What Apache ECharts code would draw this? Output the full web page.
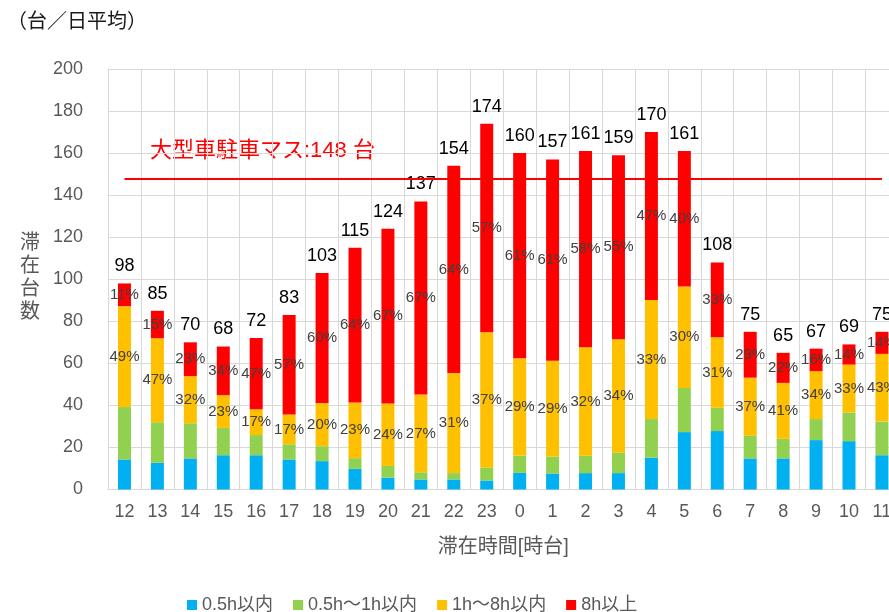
<!DOCTYPE html>
<html>
<head>
<meta charset="utf-8">
<script src="https://cdn.jsdelivr.net/npm/echarts@6/dist/echarts.min.js"></script>
<style>html,body{margin:0;padding:0;background:#fff}#c{width:889px;height:612px}</style>
</head>
<body>
<div id="c"></div>
<script>
var categories = ['12','13','14','15','16','17','18','19','20','21','22','23','0','1','2','3','4','5','6','7','8','9','10','11'];
var seriesNames = ['0.5h以内','0.5h～1h以内','1h～8h以内','8h以上'];
var blue   = [14.3,12.7,14.8,16.3,16.3,14.3,13.5,9.8,5.6,4.8,4.8,4.3,7.9,7.6,7.8,7.8,15.1,27.3,27.8,14.8,14.8,23.5,23,16.3];
var green  = [24.9,19.3,16.7,13,9.6,7.2,7.1,5.1,5.6,3.4,3,6.1,8.1,8.1,8.3,9.7,18.4,21,11.1,10.7,9.3,10,13.6,16];
var orange = [48,40,22.4,15.6,12.3,14.2,20.6,26.5,29.7,37,47.6,64.4,46.4,45.5,51.5,54,56.6,48.3,33.5,27.7,26.6,22.8,22.8,32.2];
var red    = [10.8,13,16.1,23.1,33.8,47.3,61.8,73.6,83.1,91.8,98.6,99.2,97.6,95.8,93.4,87.5,79.9,64.4,35.6,21.8,14.3,10.7,9.6,10.5];
var totalLabels  = [98,85,70,68,72,83,103,115,124,137,154,174,160,157,161,159,170,161,108,75,65,67,69,75];
var orangePct = [49,47,32,23,17,17,20,23,24,27,31,37,29,29,32,34,33,30,31,37,41,34,33,43];
var redPct    = [11,15,23,34,47,57,60,64,67,67,64,57,61,61,58,55,47,40,33,29,22,16,14,14];
var parkingCapacity = 148;
var yTicks = {min:0, max:200, interval:20};

var FF = "'Liberation Sans','Noto Sans CJK JP',sans-serif";
var colors = ['#00B0F0','#92D050','#FFC000','#FF0000'];
var chart = echarts.init(document.getElementById('c'), null, {renderer:'canvas'});

function pctLabel(arr){
  return {show:true, position:'inside', color:'#404040', fontSize:15, fontFamily:FF,
          formatter:function(p){return arr[p.dataIndex] + '%';}};
}

var option = {
  animation:false,
  backgroundColor:'#fff',
  color: colors,
  grid:{left:108, top:69, right:-9.4, bottom:122.5, outerBoundsMode:'none', containLabel:false},
  legend:{
    data: seriesNames, left:187, top:596, itemWidth:10, itemHeight:10, itemGap:20, padding:0,
    icon:'rect', textStyle:{fontSize:18, color:'#595959', fontFamily:FF}
  },
  graphic:[
    {type:'text', left:7, top:12, style:{text:'（台／日平均）', fontSize:20, fill:'#1a1a1a', fontFamily:FF}},
    {type:'text', x:30, y:278, style:{text:'滞\n在\n台\n数', fontSize:20, lineHeight:23, fill:'#595959', fontFamily:FF, align:'center', verticalAlign:'middle'}},
    {type:'text', x:150, y:151, style:{text:'大型車駐車マス:' + parkingCapacity + ' 台', fontSize:22, fill:'#FF0000', fontFamily:FF, verticalAlign:'middle'}}
  ],
  xAxis:{
    type:'category', data:categories,
    axisTick:{show:false},
    axisLine:{lineStyle:{color:'#d9d9d9'}},
    axisLabel:{fontSize:18, color:'#595959', margin:14, fontFamily:FF, interval:0},
    splitLine:{show:true, interval:0, lineStyle:{color:'#d9d9d9'}},
    name:'滞在時間[時台]', nameLocation:'middle', nameGap:48,
    nameTextStyle:{fontSize:20, color:'#595959', fontFamily:FF}
  },
  yAxis:{
    type:'value', min:yTicks.min, max:yTicks.max, interval:yTicks.interval,
    axisLine:{show:true, lineStyle:{color:'#d9d9d9'}},
    axisTick:{show:false},
    axisLabel:{fontSize:18, color:'#595959', margin:25, fontFamily:FF},
    splitLine:{lineStyle:{color:'#d9d9d9'}}
  },
  series:[
    {name:seriesNames[0], type:'bar', stack:'s', barWidth:13, data:blue},
    {name:seriesNames[1], type:'bar', stack:'s', barWidth:13, data:green},
    {name:seriesNames[2], type:'bar', stack:'s', barWidth:13, data:orange, label:pctLabel(orangePct)},
    {name:seriesNames[3], type:'bar', stack:'s', barWidth:13, data:red, label:pctLabel(redPct),
      markLine:{silent:true, symbol:'none', label:{show:false},
        lineStyle:{color:'#FF0000', width:2, type:'solid'},
        data:[[{coord:[categories[0], parkingCapacity]},{coord:[categories[categories.length-1], parkingCapacity]}]]}},
    {name:'total', type:'bar', stack:'s', barWidth:13, data:categories.map(function(){return 0;}),
      label:{show:true, position:'top', distance:8, color:'#000', fontSize:18, fontFamily:FF,
        formatter:function(p){return totalLabels[p.dataIndex];}}}
  ]
};
chart.setOption(option);
</script>
</body>
</html>
